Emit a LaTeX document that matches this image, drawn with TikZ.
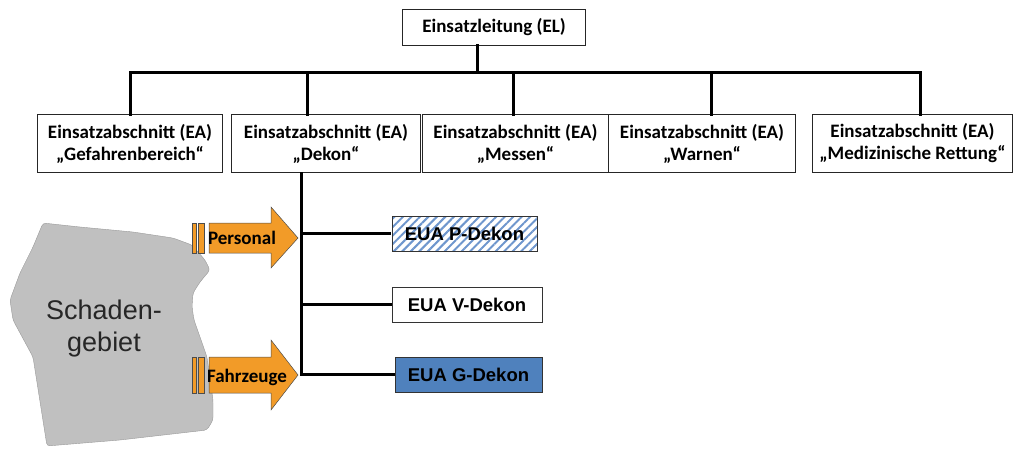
\documentclass[tikz,border=0pt]{standalone}
\usepackage{fontspec}
\setmainfont{Carlito}
\newfontfamily\arialf{Liberation Sans}
\newfontfamily\arialbf{Liberation Sans Bold}
\usetikzlibrary{patterns.meta,calc}
\definecolor{orangeA}{RGB}{242,155,40}
\definecolor{blueG}{RGB}{79,129,189}
\definecolor{hatchB}{RGB}{110,150,205}
\definecolor{blobgray}{RGB}{192,192,192}
\tikzset{
  orgbox/.style={fill=white, inner sep=0pt, align=center,
    font=\bfseries\fontsize{19}{22}\selectfont,
    append after command={
      \pgfextra{\draw[black!85, line width=0.9pt]
        (\tikzlastnode.north west) rectangle (\tikzlastnode.south east);
      \draw[black!85, line width=0.9pt]
        ([shift={(2.2pt,-2.2pt)}]\tikzlastnode.north west) rectangle ([shift={(-2.2pt,2.2pt)}]\tikzlastnode.south east);}
    }},
  euabox/.style={draw=black!80, line width=0.8pt, inner sep=0pt,
    font=\arialbf\fontsize{18.5}{20}\selectfont},
  conn/.style={line width=3pt, line cap=rect},
  arrowfill/.style={fill=orangeA, draw=black!70, line width=0.5pt},
  lbl/.style={font=\bfseries\fontsize{19}{20}\selectfont, inner sep=0pt}
}
\begin{document}
\begin{tikzpicture}[x=1pt,y=-1pt]
\useasboundingbox (0,0) rectangle (1015,450);
% top box
\node[orgbox, minimum width=182pt, minimum height=35pt] (EL) at (494,27.5) {Einsatzleitung (EL)};
% EA boxes
\node[orgbox, minimum width=184pt, minimum height=57pt] (ea1) at (130,143.5) {Einsatzabschnitt (EA)\\„Gefahrenbereich“};
\node[orgbox, minimum width=188pt, minimum height=57pt] (ea2) at (326,143.5) {Einsatzabschnitt (EA)\\„Dekon“};
\node[orgbox, minimum width=185pt, minimum height=57pt] (ea3) at (515.5,143.5) {Einsatzabschnitt (EA)\\„Messen“};
\node[orgbox, minimum width=186pt, minimum height=57pt] (ea4) at (702,143.5) {Einsatzabschnitt (EA)\\„Warnen“};
\node[orgbox, minimum width=199pt, minimum height=57pt] (ea5) at (912.5,143.5) {Einsatzabschnitt (EA)\\„Medizinische Rettung“};
% bus
\coordinate (bus) at (0,72);
\draw[conn] ([xshift=-17pt]EL.south) -- ([xshift=-17pt]EL.south |- bus);
\draw[conn] (ea1.north |- bus) -- ([xshift=7.5pt]ea5.north |- bus);
\draw[conn] (ea1.north) -- (ea1.north |- bus);
\draw[conn] ([xshift=-19pt]ea2.north) -- ([xshift=-19pt]ea2.north |- bus);
\draw[conn] ([xshift=-2.5pt]ea3.north) -- ([xshift=-2.5pt]ea3.north |- bus);
\draw[conn] ([xshift=9pt]ea4.north) -- ([xshift=9pt]ea4.north |- bus);
\draw[conn] ([xshift=7.5pt]ea5.north) -- ([xshift=7.5pt]ea5.north |- bus);
% EUA boxes
\node[euabox, minimum width=145pt, minimum height=35pt,
  pattern={Lines[angle=45,distance=6pt,line width=2pt]}, pattern color=hatchB] (p) at (464.5,233.5) {};
\node[euabox, draw=none] (ptext) at (p.center) {EUA P-Dekon};
\node[euabox, fill=white, minimum width=150pt, minimum height=35pt] (v) at (467,304.5) {EUA V-Dekon};
\node[euabox, fill=blueG, minimum width=147pt, minimum height=35pt] (g) at (468.5,374.5) {EUA G-Dekon};
% spine
\coordinate (sp) at ([xshift=-25pt]ea2.south);
\draw[conn, line cap=butt] (sp) |- (g.west);
\draw[conn, line cap=butt] (p.west -| sp) -- (p.west);
\draw[conn, line cap=butt] (v.west -| sp) -- (v.west);
% blob
\fill[blobgray, draw=black!40, line width=0.4pt, rounded corners=3pt]
  (43,223) -- (80,227) -- (133,232) -- (173,238) -- (192,245) -- (205,260) -- (210,270)
  -- (200,282) -- (193,293) -- (192,307) -- (194,320) -- (200,337) -- (207,357)
  -- (213,400) -- (213,420) -- (207,430) -- (120,440) -- (47,446)
  -- (33,357) -- (13,320) -- (10,300) -- (20,273) -- (33,247) -- cycle;
\node[font=\arialf\fontsize{27}{32}\selectfont, align=center, text=black!85] (blob) at (104,329) {Schaden-\\gebiet};
% arrows
\filldraw[arrowfill] (209,223) -- (271,223) -- (271,207) -- (298,238) -- (271,268) -- (271,253) -- (209,253) -- cycle;
\filldraw[arrowfill] (192,223) rectangle (196,253);
\filldraw[arrowfill] (198,223) rectangle (204,253);
\node[lbl] (pers) at (242,238) {Personal};
\filldraw[arrowfill] (209,357) -- (271,357) -- (271,340) -- (298,375) -- (271,410) -- (271,393) -- (209,393) -- cycle;
\filldraw[arrowfill] (192,357) rectangle (196,393);
\filldraw[arrowfill] (198,357) rectangle (204,393);
\node[lbl] (fahr) at (247,377) {Fahrzeuge};
\end{tikzpicture}
\end{document}
